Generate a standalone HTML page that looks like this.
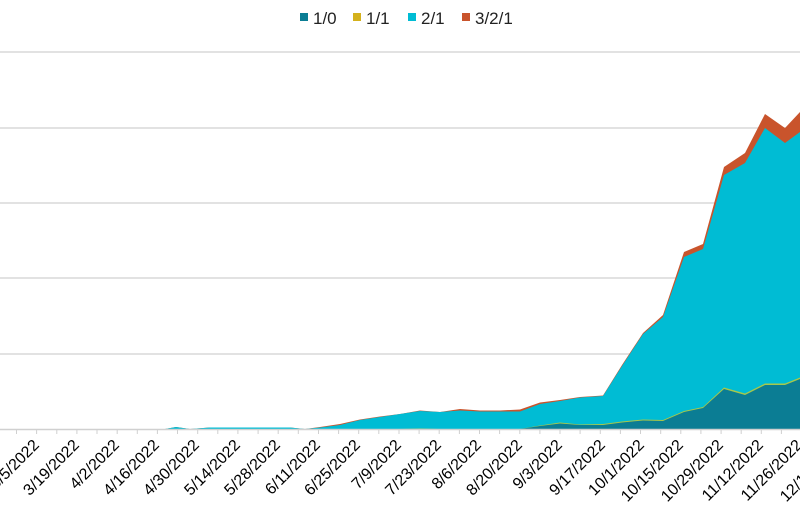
<!DOCTYPE html>
<html><head><meta charset="utf-8"><style>
html,body{margin:0;padding:0;background:#fff;width:800px;height:524px;overflow:hidden}
svg{display:block;font-family:"Liberation Sans",Arial,sans-serif}
</style></head><body>
<svg width="800" height="524" viewBox="0 0 800 524" xmlns="http://www.w3.org/2000/svg">
<g stroke="#d9d9d9" stroke-width="1.5">
<line x1="0" y1="52" x2="800" y2="52"/>
<line x1="0" y1="128" x2="800" y2="128"/>
<line x1="0" y1="203" x2="800" y2="203"/>
<line x1="0" y1="278" x2="800" y2="278"/>
<line x1="0" y1="354" x2="800" y2="354"/>
</g>
<polygon fill="#c9542c" points="0,429 165,429 176,427 190,429 210,427.5 290,427.5 305,429 320,427 340,424 360,419.5 380,416.5 400,414 420,410.5 440,412 460,409 480,410.5 500,410.5 520,409.5 540,402.5 560,400 580,397 603,395.5 622,365 643,333 663,315 684,252 703,244 724,167 745,153 765,114 785,128 800,112 800,429"/>
<polygon fill="#00bcd4" points="0,429 165,429 176,427 190,429 210,427.5 290,427.5 305,429 320,427.5 340,425 360,420 380,417 400,414 420,411 440,412 460,410.5 480,411.5 500,411.5 520,411.5 540,404 560,401 580,397.5 603,396 622,366 643,334 663,317 684,257 703,249 724,175 745,163 765,128 785,143 800,132 800,429"/>
<polygon fill="#a8c84a" points="0,429 400,429 420,428.5 440,429 520,429 540,425.5 560,422.5 580,424.5 603,424 622,421.5 643,419.5 663,420 684,411 703,407 724,387.5 745,393.5 765,383.5 785,383.5 800,377.5 800,429"/>
<polygon fill="#0b7d94" points="0,429 400,429 420,429 440,429 520,429 540,426 560,423.5 580,425 603,425 622,422.5 643,420.5 663,421 684,412 703,408 724,389 745,395 765,385 785,385 800,379 800,429"/>
<line x1="0" y1="429.5" x2="800" y2="429.5" stroke="#d0d0d0" stroke-width="1.5"/>
<g stroke="#d0d0d0" stroke-width="1">
<path d="M16.5 429v5M36.6 429v5M56.8 429v5M76.9 429v5M97 429v5M117.2 429v5M137.3 429v5M157.4 429v5M177.5 429v5M197.7 429v5M217.8 429v5M237.9 429v5M258.1 429v5M278.2 429v5M298.3 429v5M318.5 429v5M338.6 429v5M358.7 429v5M378.8 429v5M399 429v5M419.1 429v5M439.2 429v5M459.4 429v5M479.5 429v5M499.6 429v5M519.8 429v5M539.9 429v5M560 429v5M580.1 429v5M600.3 429v5M620.4 429v5M640.5 429v5M660.7 429v5M680.8 429v5M700.9 429v5M721.1 429v5M741.2 429v5M761.3 429v5M781.4 429v5"/>
</g>
<g font-size="16" fill="#000" text-anchor="end">
<text transform="translate(40,446) rotate(-45)">3/5/2022</text>
<text transform="translate(80,446) rotate(-45)">3/19/2022</text>
<text transform="translate(120,446) rotate(-45)">4/2/2022</text>
<text transform="translate(160,446) rotate(-45)">4/16/2022</text>
<text transform="translate(200,446) rotate(-45)">4/30/2022</text>
<text transform="translate(241,446) rotate(-45)">5/14/2022</text>
<text transform="translate(281,446) rotate(-45)">5/28/2022</text>
<text transform="translate(321,446) rotate(-45)">6/11/2022</text>
<text transform="translate(361,446) rotate(-45)">6/25/2022</text>
<text transform="translate(402,446) rotate(-45)">7/9/2022</text>
<text transform="translate(442,446) rotate(-45)">7/23/2022</text>
<text transform="translate(482,446) rotate(-45)">8/6/2022</text>
<text transform="translate(523,446) rotate(-45)">8/20/2022</text>
<text transform="translate(563,446) rotate(-45)">9/3/2022</text>
<text transform="translate(606,446) rotate(-45)">9/17/2022</text>
<text transform="translate(645,446) rotate(-45)">10/1/2022</text>
<text transform="translate(684,446) rotate(-45)">10/15/2022</text>
<text transform="translate(724,446) rotate(-45)">10/29/2022</text>
<text transform="translate(764,446) rotate(-45)">11/12/2022</text>
<text transform="translate(803,446) rotate(-45)">11/26/2022</text>
<text transform="translate(843,446) rotate(-45)">12/10/2022</text>
</g>
<g font-size="17" fill="#222">
<rect x="300" y="13" width="8" height="8" fill="#0b7d94"/><text x="313" y="24">1/0</text>
<rect x="353" y="13" width="8" height="8" fill="#d4b11c"/><text x="366" y="24">1/1</text>
<rect x="408" y="13" width="8" height="8" fill="#00bcd4"/><text x="421" y="24">2/1</text>
<rect x="462" y="13" width="8" height="8" fill="#c9542c"/><text x="475" y="24">3/2/1</text>
</g>
</svg>
</body></html>
